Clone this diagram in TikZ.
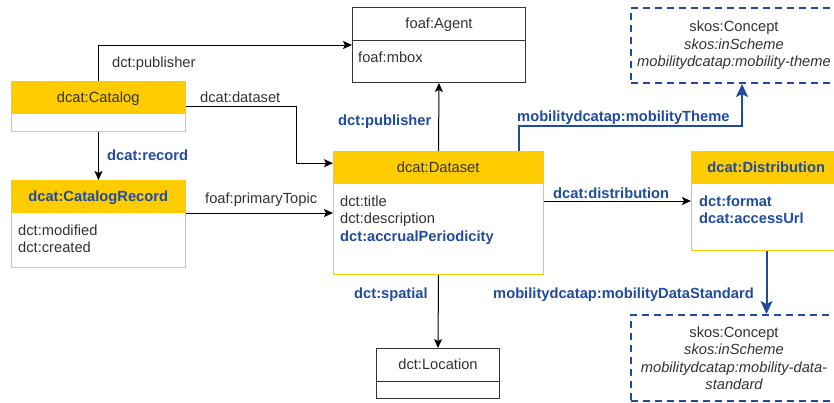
\documentclass[tikz,border=0pt]{standalone}
\usepackage{fontspec}
\setmainfont{Liberation Sans}
\usetikzlibrary{positioning,arrows.meta}
\definecolor{dyellow}{HTML}{FFCC00}
\definecolor{dblue}{HTML}{1F4C9E}
\definecolor{dgray}{HTML}{333333}
\def\hh{33}
\def\fs{\fontsize{14.7}{17.5}\selectfont}
\tikzset{every node/.style={font=\fs,text=dgray,inner sep=0pt},
    cls/.style={draw=dyellow,line width=1pt,fill=white,anchor=north west,minimum width=#1},
    hdr/.style={fill=dyellow,anchor=north west,minimum width=#1,minimum height=\hh,text depth=1pt},
    ocls/.style={draw=dgray,line width=1pt,fill=white,anchor=north west,minimum width=#1},
    ohdr/.style={draw=dgray,line width=1pt,anchor=north west,minimum width=#1,minimum height=\hh,text depth=1pt},
    attr/.style={anchor=north west,align=left},
    concept/.style={draw=dblue,line width=2pt,dash pattern=on 7pt off 5pt,anchor=north west,
      minimum width=206,align=center},
    lbl/.style={anchor=west,yshift=-2pt},
    blbl/.style={anchor=west,yshift=-2pt,text=dblue,font=\fs\bfseries},
    arr/.style={draw=black,line width=1pt,-{Stealth[length=9pt,width=8pt,inset=2pt]}},
    barr/.style={draw=dblue,line width=2pt,-{Stealth[length=13pt,width=12pt,inset=3pt]}}}

\begin{document}
\begin{tikzpicture}[x=1pt,y=-1pt]
    \path[fill=white,use as bounding box] (0,0) rectangle (834,402);
    % classes
    \node[cls=174,minimum height=50] (catalog) at (11,81) {};
    \node[hdr=174] (cathead) at (catalog.north west) {dcat:Catalog};
    \node[cls=174,minimum height=87] (record) at (11,180) {};
    \node[hdr=174,text=dblue,font=\fs\bfseries] (rechead) at (record.north west) {dcat:CatalogRecord};
    \node[attr] (recattr) at (18,224.5) {dct:modified\\dct:created};
    \node[ocls=173,minimum height=75] (agent) at (352,7) {};
    \node[ohdr=173] (agenthead) at (agent.north west) {foaf:Agent};
    \node[attr] (agentattr) at (358,51.5) {foaf:mbox};
    \node[cls=210,minimum height=123] (dataset) at (333,151) {};
    \node[hdr=210] (dshead) at (dataset.north west) {dcat:Dataset};
    \node[attr] (dsattr) at (340,195.5) {dct:title\\dct:description\\
      \textcolor{dblue}{\bfseries dct:accrualPeriodicity}};
    \node[cls=150,minimum height=99] (dist) at (691,151) {};
    \node[hdr=150,text=dblue,font=\fs\bfseries] (disthead) at (dist.north west) {dcat:Distribution};
    \node[attr,text=dblue,font=\fs\bfseries] (distattr) at (699,195.5) {dct:format\\dcat:accessUrl};
    \node[ocls=123,minimum height=50] (location) at (376,348) {};
    \node[ohdr=123] (lochead) at (location.north west) {dct:Location};
    \node[concept,minimum height=75] (theme) at (630,7)
      {skos:Concept\\\itshape skos:inScheme\\\itshape mobilitydcatap:mobility-theme};
    \node[concept,minimum height=86] (standard) at (630,314)
      {skos:Concept\\\itshape skos:inScheme\\\itshape mobilitydcatap:mobility-data-\\\itshape standard};
    % connectors
    \draw[arr] (catalog.north) |- (agent.west);
    \coordinate (dsbend) at (296,0);
    \coordinate (dsin) at ([yshift=4.5pt]dshead.west);
    \draw[arr] (catalog.east) -| (dsbend |- dsin) -- (dsin);
    \draw[arr] (catalog.south) -- (record.north);
    \draw[arr] (dataset.west -| record.east) -- (dataset.west);
    \draw[arr] (dataset.north) -- (agent.south);
    \draw[arr] (dataset.south) -- (location.north);
    \draw[arr] (dist.west -| dataset.east) -- (dist.west);
    \coordinate (themebend) at (742,126);
    \draw[barr] ([xshift=80pt]dataset.north) |- (themebend) -- (themebend |- theme.south);
    \draw[barr] (dist.south) -- (dist.south |- standard.north);
    % labels
    \node[lbl] (pubcat) at (112,62) {dct:publisher};
    \node[lbl] (dsetlbl) at (200,95) {dcat:dataset};
    \node[blbl] (reclbl) at (107,153) {dcat:record};
    \node[lbl] (toplbl) at (205,198) {foaf:primaryTopic};
    \node[blbl] (publbl) at (338,120) {dct:publisher};
    \node[blbl] (themelbl) at (517,116) {mobilitydcatap:mobilityTheme};
    \node[blbl] (distlbl) at (553,191) {dcat:distribution};
    \node[blbl] (spatlbl) at (354,293) {dct:spatial};
    \node[blbl] (stdlbl) at (493,293) {mobilitydcatap:mobilityDataStandard};
\end{tikzpicture}
\end{document}
